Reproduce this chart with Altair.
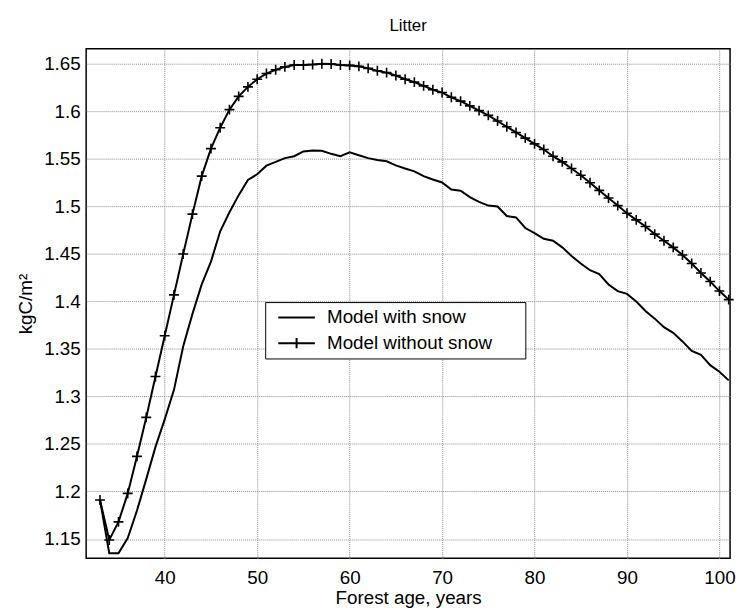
import altair as alt
import pandas as pd

ages = list(range(33, 102))

with_snow = [
    1.191, 1.135, 1.135, 1.151, 1.180, 1.213, 1.247, 1.276, 1.307, 1.353,
    1.387, 1.418, 1.442, 1.474, 1.494, 1.512, 1.528, 1.534, 1.543, 1.547,
    1.551, 1.553, 1.558, 1.559, 1.5587, 1.5555, 1.553, 1.557, 1.554, 1.551,
    1.549, 1.5476, 1.5434, 1.540, 1.537, 1.532, 1.5285, 1.5253, 1.518, 1.5167,
    1.510, 1.505, 1.501, 1.500, 1.490, 1.4885, 1.4774, 1.472, 1.466, 1.464,
    1.457, 1.448, 1.440, 1.433, 1.429, 1.418, 1.411, 1.408, 1.400, 1.390,
    1.382, 1.373, 1.367, 1.358, 1.348, 1.344, 1.333, 1.326, 1.317,
]

without_snow = [
    1.191, 1.149, 1.168, 1.198, 1.237, 1.278, 1.321, 1.364, 1.407, 1.450,
    1.492, 1.532, 1.561, 1.583, 1.602, 1.616, 1.626, 1.634, 1.640, 1.644,
    1.647, 1.649, 1.649, 1.6495, 1.6503, 1.650, 1.649, 1.6486, 1.6476, 1.6455,
    1.643, 1.641, 1.638, 1.634, 1.631, 1.627, 1.623, 1.620, 1.615, 1.611,
    1.606, 1.601, 1.596, 1.590, 1.584, 1.578, 1.572, 1.566, 1.560, 1.553,
    1.547, 1.540, 1.533, 1.525, 1.517, 1.509, 1.501, 1.493, 1.486, 1.479,
    1.471, 1.464, 1.457, 1.449, 1.440, 1.430, 1.421, 1.411, 1.402,
]

series_names = ["Model with snow", "Model without snow"]
x_ticks = [40, 50, 60, 70, 80, 90, 100]
y_ticks = [1.15, 1.2, 1.25, 1.3, 1.35, 1.4, 1.45, 1.5, 1.55, 1.6, 1.65]

df = pd.concat([
    pd.DataFrame({"age": ages, "value": with_snow, "series": series_names[0]}),
    pd.DataFrame({"age": ages, "value": without_snow, "series": series_names[1]}),
], ignore_index=True)

FONT = "Liberation Sans"
PLUS = "M-1,0H1M0,-1V1"
PAD_TAIL = "\u2800" * 2

x = alt.X("age:Q", scale=alt.Scale(domain=[31.5, 101.15], nice=False, zero=False),
          axis=alt.Axis(values=x_ticks, format="d", title="Forest age, years",
                        titleY=46, titleBaseline="alphabetic", labelBaseline="alphabetic",
                        labelPadding=26))
y = alt.Y("value:Q", scale=alt.Scale(domain=[1.1297, 1.666], nice=False, zero=False),
          axis=alt.Axis(values=y_ticks, format=".2~f", title="kgC/m²",
                        titleX=-61, titleY=257.5, titleBaseline="middle", titleAngle=-90,
                        labelPadding=6))

base = alt.Chart(df).encode(x=x, y=y)

lines = base.mark_line(color="black", strokeWidth=2).encode(detail="series:N")

markers = base.transform_filter(
    alt.datum.series == series_names[1]
).mark_point(shape=PLUS, size=100, filled=False, color="black", strokeWidth=1.6, opacity=1)

legend_layer = base.transform_filter("false").mark_point(
    filled=False, color="black", strokeWidth=2, opacity=1
).encode(
    shape=alt.Shape(
        "series:N",
        scale=alt.Scale(domain=series_names,
                        range=["M-1,0H3", "M-1,0H3M1,-0.55V0.55"]),
        legend=alt.Legend(
            orient="none", legendX=181, legendY=256, title=None,
            padding=5, strokeColor="black", fillColor="white",
            symbolSize=342, symbolStrokeWidth=2, symbolStrokeColor="black",
            symbolFillColor="transparent", symbolOpacity=1, symbolOffset=7,
            labelFont=FONT, labelFontSize=19, labelColor="black",
            labelOffset=29.5, rowPadding=5, labelLimit=500,
            labelExpr="datum.label + '" + PAD_TAIL + "'",
        ),
    )
)

chart = alt.layer(lines, markers, legend_layer).properties(
    width=651, height=515,
    title=alt.Title("Litter", font=FONT, fontSize=17, fontWeight="normal",
                    color="black", baseline="alphabetic", offset=15, frame="group",
                    dy=14),
    autosize=alt.AutoSizeParams(type="none"),
    padding={"left": 79, "top": 38, "right": 7, "bottom": 51},
).configure_view(
    stroke="black", strokeWidth=1.5
).configure_axis(
    domain=False, ticks=False, tickSize=0,
    grid=True, gridColor="#8a8a8a", gridDash=[1, 1], gridWidth=1,
    labelFont=FONT, labelFontSize=19, labelColor="black",
    titleFont=FONT, titleFontSize=19, titleFontWeight="normal", titleColor="black",
)

chart.save("out.html", embed_options={"renderer": "svg", "actions": False})
